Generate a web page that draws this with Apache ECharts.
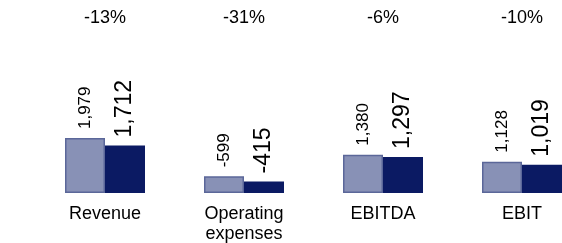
<!DOCTYPE html>
<html>
<head>
<meta charset="utf-8">
<script src="https://cdn.jsdelivr.net/npm/echarts@6/dist/echarts.min.js"></script>
<style>
html,body{margin:0;padding:0;background:#fff;}
#chart{width:562px;height:243px;}
</style>
</head>
<body>
<div id="chart"></div>
<script>
const categories = ['Revenue', 'Operating\nexpenses', 'EBITDA', 'EBIT'];
const priorValues = [1979, -599, 1380, 1128];
const currentValues = [1712, -415, 1297, 1019];
const changeLabels = ['-13%', '-31%', '-6%', '-10%'];

const fmt = v => v.toLocaleString('en-US');
const chart = echarts.init(document.getElementById('chart'));
const font = 'Liberation Sans, Arial, sans-serif';

chart.setOption({
  animation: false,
  grid: { left: 35.5, top: 43, width: 556, height: 150, containLabel: false, outerBoundsMode: 'none' },
  xAxis: [
    {
      type: 'category', data: categories, position: 'bottom',
      axisLine: { show: false }, axisTick: { show: false },
      axisLabel: { color: '#000', fontFamily: font, fontSize: 18, lineHeight: 20, margin: 11, interval: 0 }
    },
    {
      type: 'category', data: changeLabels, position: 'top',
      axisLine: { show: false }, axisTick: { show: false },
      axisLabel: { color: '#000', fontFamily: font, fontSize: 18, margin: 16, interval: 0 }
    }
  ],
  yAxis: { type: 'value', min: 0, max: 5400, show: false, splitLine: { show: false } },
  series: [
    {
      type: 'bar', xAxisIndex: 0, barWidth: 40, barGap: '0%',
      data: priorValues.map(v => Math.abs(v)),
      itemStyle: { color: '#8891b6', borderColor: '#5b6799', borderWidth: 1.5 },
      label: {
        show: true, position: 'top', rotate: 90, align: 'left', verticalAlign: 'middle', distance: 9,
        fontFamily: font, fontSize: 17, color: '#000',
        formatter: p => fmt(priorValues[p.dataIndex])
      }
    },
    {
      type: 'bar', xAxisIndex: 0, barWidth: 40, barGap: '0%',
      data: currentValues.map(v => Math.abs(v)),
      itemStyle: { color: '#0b1a63' },
      label: {
        show: true, position: 'top', rotate: 90, align: 'left', verticalAlign: 'middle', distance: 8,
        fontFamily: font, fontSize: 23, color: '#000',
        formatter: p => fmt(currentValues[p.dataIndex])
      }
    }
  ]
});
</script>
</body>
</html>
